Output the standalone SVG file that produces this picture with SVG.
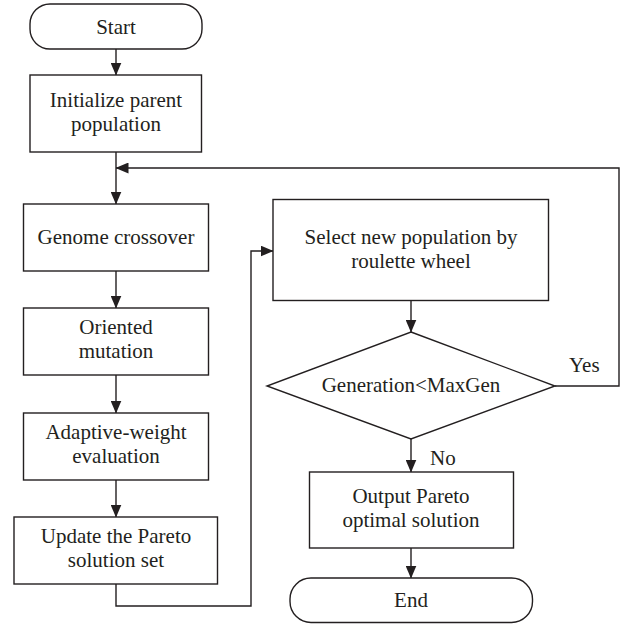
<svg xmlns="http://www.w3.org/2000/svg" width="622" height="627" viewBox="0 0 622 627">
<defs>
<marker id="ah" markerUnits="userSpaceOnUse" markerWidth="13" markerHeight="11" refX="12.5" refY="5.5" orient="auto">
<path d="M0,0 L13,5.5 L0,11 z" fill="#231f20"/>
</marker>
<style>
.box{fill:#fff;stroke:#231f20;stroke-width:1.4}
.ln{fill:none;stroke:#231f20;stroke-width:1.4}
text{font-family:'Liberation Serif','DejaVu Serif',serif;font-size:21px;fill:#231f20}
.t{text-anchor:middle}
</style>
</defs>
<rect width="622" height="627" fill="#fff"/>
<g id="connectors">
<path class="ln" d="M116 49 V75" marker-end="url(#ah)"/>
<path class="ln" d="M116 152 V204" marker-end="url(#ah)"/>
<path class="ln" d="M555 386 H619 V168 H116" marker-end="url(#ah)"/>
<path class="ln" d="M116 271 V308" marker-end="url(#ah)"/>
<path class="ln" d="M116 375 V413" marker-end="url(#ah)"/>
<path class="ln" d="M116 480 V517" marker-end="url(#ah)"/>
<path class="ln" d="M116 584 V606 H251 V251 H273" marker-end="url(#ah)"/>
<path class="ln" d="M411 301 V332" marker-end="url(#ah)"/>
<path class="ln" d="M411 439 V472" marker-end="url(#ah)"/>
<path class="ln" d="M411 548 V578" marker-end="url(#ah)"/>
<text x="569" y="372" font-family="Liberation Serif, serif">Yes</text>
<text x="430" y="465" font-family="Liberation Serif, serif">No</text>
</g>
<g id="start">
<rect class="box" x="30" y="4" width="172" height="45" rx="20"/>
<text class="t" x="116" y="33.5" font-family="Liberation Serif, serif">Start</text>
</g>
<g id="init">
<rect class="box" x="30" y="75" width="171.5" height="77"/>
<text class="t" x="116" y="107" font-family="Liberation Serif, serif">Initialize parent</text>
<text class="t" x="116" y="131" font-family="Liberation Serif, serif">population</text>
</g>
<g id="genome">
<rect class="box" x="23.5" y="204" width="185" height="67"/>
<text class="t" x="116" y="244" font-family="Liberation Serif, serif">Genome crossover</text>
</g>
<g id="oriented">
<rect class="box" x="23.5" y="308" width="185" height="67"/>
<text class="t" x="116" y="334" font-family="Liberation Serif, serif">Oriented</text>
<text class="t" x="116" y="358" font-family="Liberation Serif, serif">mutation</text>
</g>
<g id="adaptive">
<rect class="box" x="23.5" y="413" width="185" height="67"/>
<text class="t" x="116" y="439" font-family="Liberation Serif, serif">Adaptive-weight</text>
<text class="t" x="116" y="463" font-family="Liberation Serif, serif">evaluation</text>
</g>
<g id="update">
<rect class="box" x="14" y="517" width="203.5" height="67"/>
<text class="t" x="116" y="543" font-family="Liberation Serif, serif">Update the Pareto</text>
<text class="t" x="116" y="567" font-family="Liberation Serif, serif">solution set</text>
</g>
<g id="select">
<rect class="box" x="273" y="199.5" width="275.5" height="101"/>
<text class="t" x="411" y="244" font-family="Liberation Serif, serif">Select new population by</text>
<text class="t" x="411" y="268" font-family="Liberation Serif, serif">roulette wheel</text>
</g>
<g id="decision">
<polygon class="box" points="411,332 555,386 411,439 267,386"/>
<text class="t" x="411" y="392" font-family="Liberation Serif, serif">Generation&lt;MaxGen</text>
</g>
<g id="output">
<rect class="box" x="309.5" y="472" width="204" height="76"/>
<text class="t" x="411" y="503" font-family="Liberation Serif, serif">Output Pareto</text>
<text class="t" x="411" y="527" font-family="Liberation Serif, serif">optimal solution</text>
</g>
<g id="end">
<rect class="box" x="290" y="578" width="242.5" height="44.5" rx="21"/>
<text class="t" x="411" y="607" font-family="Liberation Serif, serif">End</text>
</g>
</svg>
